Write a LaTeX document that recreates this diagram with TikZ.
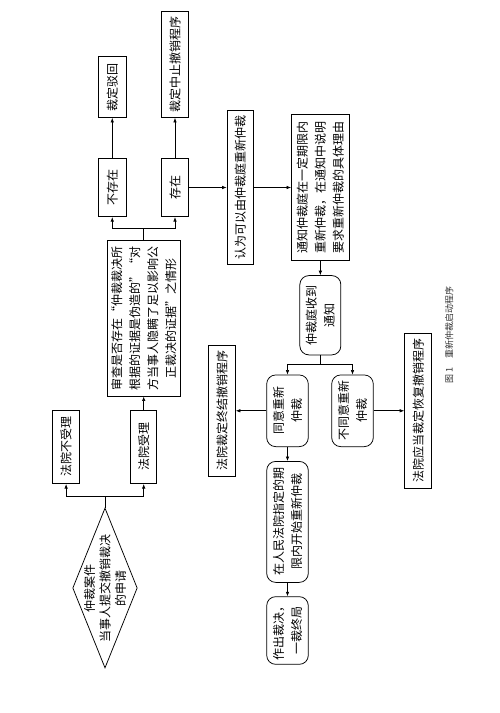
\documentclass[tikz,border=0pt]{standalone}
\usepackage{fontspec}
\setmainfont{Noto Sans CJK SC}
\usetikzlibrary{shapes.geometric,arrows.meta,positioning}

\begin{document}
\begin{tikzpicture}[
    x=1pt, y=1pt,
    node distance=14pt,
    box/.style={rectangle, draw=black, line width=0.75pt, inner sep=1pt, text centered, align=center, font=\fontsize{12}{18}\selectfont},
    rbox/.style={box, rounded corners=9pt},
    decision/.style={diamond, draw=black, line width=0.75pt, inner sep=0pt},
    arrow/.style={-{Latex[length=4.5pt,width=3.5pt]}, line width=0.65pt}
]
\useasboundingbox (0,0) rectangle (499,713);

% the whole chart is turned a quarter turn
\begin{scope}[rotate=90, transform shape]
\node[decision, minimum width=160pt, minimum height=64.6pt,
    label={[font=\fontsize{12}{15.5}\selectfont, align=center]center:仲裁案件\\当事人提交撤销裁决\\的申请}] (apply) at (125,-105) {};
\node[box, minimum width=73.3pt, minimum height=26pt] (accept) at (266,-143.7) {法院受理};
\node[box, minimum width=73.3pt, minimum height=26.7pt, above=50.5pt of accept] (reject) {法院不受理};
\node[box, minimum width=156pt, minimum height=73.3pt, right=13.5pt of accept] (review) {审查是否存在“仲裁裁决所\\根据的证据是伪造的”“对\\方当事人隐瞒了足以影响公\\正裁决的证据”之情形};
\node[box, minimum width=58.4pt, minimum height=26.6pt] (exist) at (525.5,-175) {存在};
\node[box, minimum width=58.4pt, minimum height=27.4pt, above=35pt of exist] (noexist) {不存在};
\node[box, minimum width=61pt, minimum height=27.4pt, right=40pt of noexist] (dismiss) {裁定驳回};
\node[box, minimum width=106pt, minimum height=27.3pt, right=40pt of exist] (suspend) {裁定中止撤销程序};
\node[box, minimum width=154.3pt, minimum height=26.7pt, below=38pt of exist] (rearb) {认为可以由仲裁庭重新仲裁};
\node[box, minimum width=146.7pt, minimum height=57.7pt, below=37pt of rearb] (notify) {通知仲裁庭在一定期限内\\重新仲裁，在通知中说明\\要求重新仲裁的具体理由};
\node[rbox, minimum width=79.3pt, minimum height=41pt, left=14pt of notify] (received) {仲裁庭收到\\通知};
\node[rbox, minimum width=71.7pt, minimum height=41.6pt] (agree) at (302.2,-287.5) {同意重新\\仲裁};
\node[rbox, minimum width=71.7pt, minimum height=41.6pt] (disagree) at (302.2,-352.5) {不同意重新\\仲裁};
\node[box, minimum width=131.7pt, minimum height=26.7pt, above=30.5pt of agree] (terminate) {法院裁定终结撤销程序};
\node[box, minimum width=155pt, minimum height=27.3pt, below=30.5pt of disagree] (resume) {法院应当裁定恢复撤销程序};
\node[rbox, minimum width=121pt, minimum height=41.6pt, left=14pt of agree] (restart) {在人民法院指定的期\\限内开始重新仲裁};
\node[rbox, minimum width=67.7pt, minimum height=41.6pt, left=13.5pt of restart] (award) {作出裁决，\\一裁终局};
\node[font=\fontsize{9}{11}\selectfont, text=black!80] (caption) at (378,-449.3) {图 1\quad 重新仲裁启动程序};

\draw[arrow] (apply.east) -- ++(11.3,0) |- (reject.west);
\draw[arrow] (apply.east) -- ++(11.3,0) |- (accept.west);
\draw[arrow] (accept.east) -- (accept.east -| review.west);
\draw[arrow] (review.east) -- ++(11.4,0) |- (noexist.west);
\draw[arrow] (review.east) -- ++(11.4,0) |- (exist.west);
\draw[arrow] (noexist) -- (dismiss);
\draw[arrow] (exist) -- (suspend);
\draw[arrow] (exist.south) -- (exist.south |- rearb.north);
\draw[arrow] (rearb.south) -- (rearb.south |- notify.north);
\draw[arrow] (notify) -- (received);
\draw[arrow] (received.west) -- ++(-9.4,0) |- (agree.east);
\draw[arrow] (received.west) -- ++(-9.4,0) |- (disagree.east);
\draw[arrow] (agree) -- (terminate);
\draw[arrow] (disagree) -- (resume);
\draw[arrow] (agree) -- (restart);
\draw[arrow] (restart) -- (award);
\end{scope}
\end{tikzpicture}
\end{document}
